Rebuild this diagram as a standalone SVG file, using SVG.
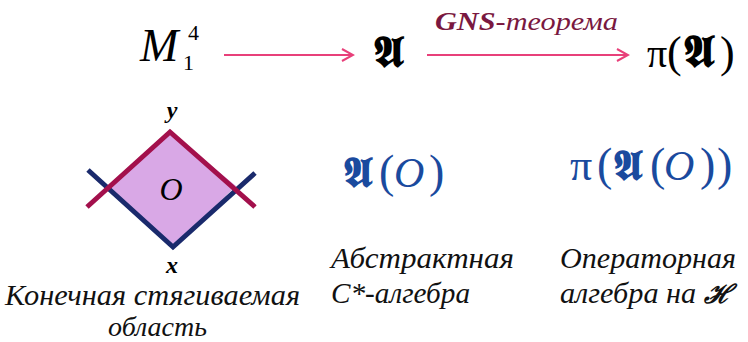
<svg xmlns="http://www.w3.org/2000/svg" width="748" height="342" viewBox="0 0 748 342">
<defs>
<style>
.fr{font-family:"DejaVu Serif",serif;font-weight:bold}
.lt{font-family:"Liberation Serif",serif}
.blue{fill:#1a4a9e}
.arr{stroke:#e8407a;stroke-width:2;fill:none}
.cap{font-family:"Liberation Serif",serif;font-style:italic;font-size:30px;fill:#111}
</style>
<marker id="ah" markerWidth="14" markerHeight="14" refX="12" refY="7" orient="auto" markerUnits="userSpaceOnUse">
<path d="M1,1 L12,7 L1,13" fill="none" stroke="#e8407a" stroke-width="2"/>
</marker>
</defs>
<g id="connectors">
<line class="arr" x1="224" y1="55" x2="353" y2="55" marker-end="url(#ah)"/>
<line class="arr" x1="427" y1="55" x2="628" y2="55" marker-end="url(#ah)"/>
<text x="435" y="30" class="lt" font-style="italic" font-size="25" fill="#7a1840" textLength="183" lengthAdjust="spacingAndGlyphs"><tspan font-weight="bold">GNS</tspan>-теорема</text>
</g>
<g id="M14" class="lt">
<text x="140" y="61" font-size="46" font-style="italic">M</text>
<text x="183" y="70" font-size="22">1</text>
<text x="188" y="40" font-size="22">4</text>
</g>
<g id="A">
<text class="fr" x="373" y="67" font-size="44">𝕬</text>
</g>
<g id="piA">
<text class="lt" y="67"><tspan x="647" font-size="40">π</tspan><tspan x="667" font-size="44">(</tspan><tspan class="fr" x="683" font-size="45">𝕬</tspan><tspan x="720" font-size="44">)</tspan></text>
</g>
<g id="region">
<polygon points="170,132 108,188 173,247 236,186" fill="#d9a8e6"/>
<polyline points="88,170 173,247 255,173" fill="none" stroke="#1a2a6c" stroke-width="5"/>
<polyline points="87,207 170,132 255,207" fill="none" stroke="#a3104c" stroke-width="5"/>
<g class="lt" font-style="italic" text-anchor="middle">
<text x="172" y="118" font-size="24" font-weight="bold">y</text>
<text x="171" y="200" font-size="32">O</text>
<text x="172" y="273" font-size="24" font-weight="bold">x</text>
</g>
<text class="cap" x="5" y="305" textLength="295" lengthAdjust="spacingAndGlyphs">Конечная стягиваемая</text>
<text class="cap" x="108" y="336" font-size="28" style="font-size:28px" textLength="99" lengthAdjust="spacingAndGlyphs">область</text>
</g>
<g id="AO">
<text class="lt blue" y="187"><tspan class="fr" x="343" font-size="42">𝕬</tspan><tspan x="379" font-size="46">(</tspan><tspan x="394" font-size="42" font-style="italic">O</tspan><tspan x="429" font-size="46">)</tspan></text>
<text class="cap" x="331" y="268" textLength="183" lengthAdjust="spacingAndGlyphs">Абстрактная</text>
<text class="cap" x="331" y="303" textLength="139" lengthAdjust="spacingAndGlyphs">C*-алгебра</text>
</g>
<g id="piAO">
<text class="lt blue" y="180"><tspan x="570" font-size="44">π</tspan><tspan x="597" font-size="46">(</tspan><tspan class="fr" x="613" font-size="42">𝕬</tspan><tspan x="650" font-size="46">(</tspan><tspan x="664" font-size="42" font-style="italic">O</tspan><tspan x="700" font-size="46">)</tspan><tspan x="717" font-size="46">)</tspan></text>
<text class="cap" x="560" y="268" textLength="176" lengthAdjust="spacingAndGlyphs">Операторная</text>
<text class="cap" x="560" y="303" textLength="172" lengthAdjust="spacingAndGlyphs">алгебра на <tspan font-family="DejaVu Serif, serif" font-weight="bold" font-size="26">ℋ</tspan></text>
</g>
</svg>
